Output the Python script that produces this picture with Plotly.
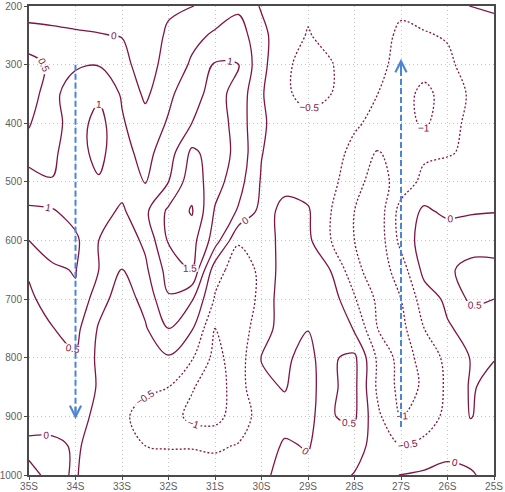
import plotly.graph_objects as go

# latitudes (degrees south) and pressure levels (hPa)
lat_s = [35, 34.5, 34, 33.5, 33, 32.5, 32, 31.5, 31, 30.5, 30,
         29.5, 29, 28.5, 28, 27.5, 27, 26.5, 26, 25.5, 25]
lev = [200, 250, 300, 350, 400, 450, 500, 550, 600, 650, 700,
       750, 800, 850, 900, 950, 1000]

# field values, one row per level (35S -> 25S)
z_200 = [-0.2, -0.2, -0.2, -0.22, -0.25, -0.45, -0.1, -0.03, 0.3, 0.4, -0.05, -0.4, -0.45, -0.35, -0.3, -0.4, -0.45, -0.4, -0.3, 0.02, 0.05]
z_250 = [0.15, 0.1, 0.05, 0.02, -0.02, -0.35, 0.1, 0.4, 0.55, 0.75, 0.15, -0.35, -0.52, -0.4, -0.3, -0.4, -0.55, -0.52, -0.48, -0.2, -0.15]
z_300 = [0.7, 0.4, 0.45, 0.48, 0.2, -0.3, 0.25, 0.55, 1.05, 1.02, 0.15, -0.45, -0.6, -0.52, -0.3, -0.42, -0.6, -0.7, -0.55, -0.4, -0.2]
z_350 = [0.58, 0.4, 0.7, 0.9, 0.45, -0.1, 0.4, 0.8, 1.2, 0.8, 0.05, -0.45, -0.6, -0.5, -0.35, -0.5, -0.7, -1.2, -0.7, -0.45, -0.3]
z_400 = [0.52, 0.3, 0.75, 1.2, 0.55, 0.2, 0.55, 1.0, 1.35, 0.75, 0.1, -0.35, -0.4, -0.35, -0.45, -0.6, -0.75, -1.1, -0.65, -0.4, -0.3]
z_450 = [0.4, 0.4, 0.8, 1.15, 0.65, 0.35, 0.75, 1.6, 1.3, 0.85, 0.02, -0.3, -0.3, -0.35, -0.6, -1.05, -0.7, -0.6, -0.55, -0.4, -0.3]
z_500 = [0.6, 0.52, 0.8, 0.95, 0.7, 0.48, 1.0, 1.8, 1.2, 0.7, -0.05, -0.1, -0.2, -0.35, -0.85, -1.2, -0.8, -0.35, -0.2, -0.1, -0.05]
z_550 = [1.1, 1.05, 0.8, 0.7, 0.42, 0.9, 1.6, 2.05, 0.95, 0.45, -0.15, 0.1, 0.05, -0.5, -1.0, -1.3, -0.3, 0.08, -0.1, -0.05, -0.02]
z_600 = [1.0, 1.15, 1.1, 0.5, 0.2, 0.6, 1.55, 1.7, 0.75, -0.45, -0.3, 0.2, 0.1, -0.5, -1.0, -1.3, -0.35, 0.25, 0.3, 0.35, 0.35]
z_650 = [0.6, 0.95, 1.02, 0.5, -0.02, 0.4, 1.2, 1.5, -0.3, -0.75, -0.4, 0.25, 0.3, -0.02, -0.85, -1.3, -0.75, 0.15, 0.45, 0.6, 0.6]
z_700 = [0.35, 0.85, 0.95, 0.2, -0.25, 0.15, 0.95, 0.55, -0.55, -0.9, -0.35, 0.3, 0.35, 0.25, -0.45, -1.1, -1.0, -0.25, 0.1, 0.6, 0.5]
z_750 = [0.25, 0.48, 0.65, -0.05, -0.45, -0.05, 0.5, 0.05, -1.0, -0.8, -0.2, 0.2, 0.02, 0.35, -0.05, -1.0, -1.15, -0.5, -0.05, 0.15, 0.3]
z_800 = [0.2, 0.35, 0.45, -0.1, -0.45, -0.35, -0.05, -0.45, -1.15, -0.75, 0.02, 0.1, -0.2, 0.45, 0.6, -0.6, -1.2, -0.85, -0.35, 0.02, 0.02]
z_850 = [0.15, 0.25, 0.35, -0.05, -0.4, -0.45, -0.5, -0.95, -1.3, -0.7, -0.1, 0.03, -0.25, 0.45, 0.62, -0.6, -1.15, -0.95, -0.4, 0.05, -0.15]
z_900 = [0.1, 0.2, 0.15, -0.1, -0.45, -0.6, -0.75, -1.15, -1.2, -0.7, -0.35, -0.15, -0.2, 0.48, 0.58, -0.4, -1.02, -0.7, -0.4, 0.02, -0.2]
z_950 = [-0.05, -0.1, 0.05, -0.15, -0.4, -0.5, -0.52, -0.52, -0.55, -0.48, -0.2, 0.05, -0.03, 0.25, 0.25, -0.25, -0.5, -0.4, -0.12, -0.12, -0.15]
z_1000 = [0.05, -0.05, 0.02, -0.15, -0.25, -0.3, -0.35, -0.35, -0.35, -0.3, -0.1, 0.15, 0.1, 0.2, -0.03, -0.2, 0.02, 0.08, 0.1, 0.03, -0.1]

z = [z_200, z_250, z_300, z_350, z_400, z_450, z_500, z_550, z_600,
     z_650, z_700, z_750, z_800, z_850, z_900, z_950, z_1000]

xtick_vals = [35, 34, 33, 32, 31, 30, 29, 28, 27, 26, 25]
xtick_text = ["35S", "34S", "33S", "32S", "31S", "30S", "29S", "28S", "27S", "26S", "25S"]
ytick_vals = [200, 300, 400, 500, 600, 700, 800, 900, 1000]

# blue arrows: (lat, from level, to level)
arrows = [(34, 300, 905), (27, 918, 290)]

x = [-v for v in lat_s]
col = "#7f1445"
cs = [[0, col], [1, col]]
lblfont = dict(size=10, color=col, family="Liberation Sans")

fig = go.Figure()
# negative contours dotted
fig.add_trace(go.Contour(
    x=x, y=lev, z=z, showscale=False, colorscale=cs,
    contours=dict(coloring="lines", start=-1.5, end=-0.5, size=0.5,
                  showlabels=True, labelfont=lblfont),
    line=dict(width=1.3, dash="2px,2px", smoothing=1.0), hoverinfo="skip"))
# zero and positive contours solid
fig.add_trace(go.Contour(
    x=x, y=lev, z=z, showscale=False, colorscale=cs,
    contours=dict(coloring="lines", start=0, end=2, size=0.5,
                  showlabels=True, labelfont=lblfont),
    line=dict(width=1.3, smoothing=1.0), hoverinfo="skip"))

blue = "#4a86d4"
for la, p0, p1 in arrows:
    fig.add_shape(type="line", xref="x", yref="y", x0=-la, x1=-la, y0=p0,
                  y1=p1 - 12 if p1 > p0 else p1 + 12,
                  line=dict(color=blue, width=2, dash="6px,3px"))
    fig.add_annotation(x=-la, y=p1, xref="x", yref="y", ax=0,
                       ay=-14 if p1 > p0 else 14, text="", showarrow=True,
                       arrowhead=5, arrowsize=1.1, arrowwidth=2, arrowcolor=blue)

axis_common = dict(showgrid=True, gridcolor="#c4c4c4", griddash="1px,3px", gridwidth=1,
                   showline=True, linecolor="#4a4a4a", linewidth=2, mirror=True,
                   ticks="outside", ticklen=3, tickcolor="#4a4a4a",
                   tickfont=dict(size=10, color="#606060", family="Liberation Sans"),
                   zeroline=False, automargin=False)

fig.update_xaxes(range=[-35, -25], tickvals=[-v for v in xtick_vals],
                 ticktext=xtick_text, ticklabelstandoff=-2, **axis_common)
fig.update_yaxes(range=[1000, 200], tickvals=ytick_vals, **axis_common)

fig.update_layout(width=505, height=492, margin=dict(l=29, r=11, t=6, b=17),
                  plot_bgcolor="white", paper_bgcolor="white", showlegend=False)

fig.write_html("out.html", config={"displayModeBar": False},
               post_script="document.body.style.margin='0';")
